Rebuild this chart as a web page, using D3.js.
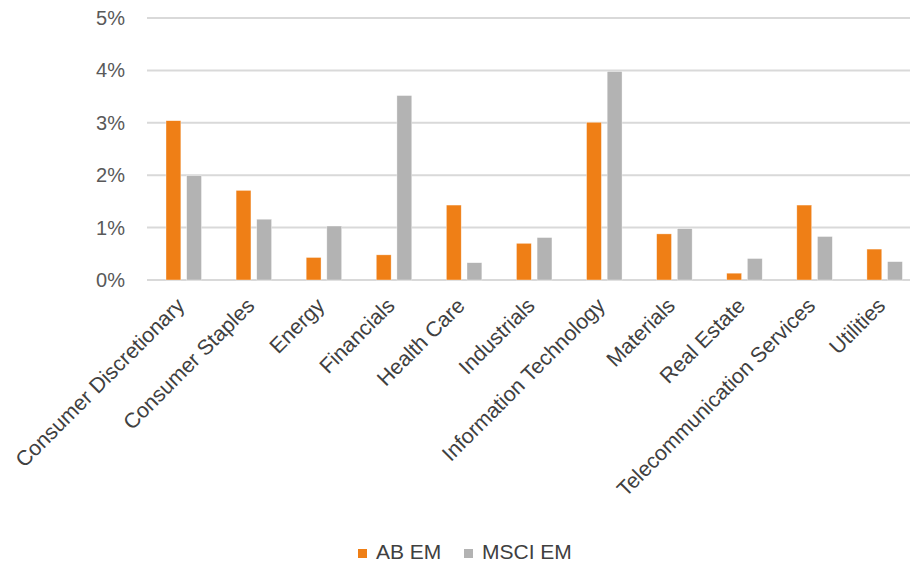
<!DOCTYPE html>
<html lang="en">
    <head>
        <meta charset="UTF-8">
        <script src="https://cdn.jsdelivr.net/npm/d3@7"></script>
        <title>AB EM vs MSCI EM</title>
        <style>
            body { margin: 0; background: #fff; }
            svg text { font-family: "Liberation Sans", Arial, sans-serif; }
        </style>
    </head>
    <body>
        <svg id="canvas" width="910" height="564"></svg>

        <script>
            // data (percent)
            var categories = ["Consumer Discretionary", "Consumer Staples", "Energy", "Financials",
                              "Health Care", "Industrials", "Information Technology", "Materials",
                              "Real Estate", "Telecommunication Services", "Utilities"];
            var series = ["AB EM", "MSCI EM"];
            var abEM   = [3.04, 1.71, 0.43, 0.48, 1.43, 0.70, 3.01, 0.88, 0.13, 1.43, 0.59];
            var msciEM = [1.99, 1.16, 1.03, 3.52, 0.33, 0.81, 3.98, 0.98, 0.41, 0.83, 0.35];
            var yTicks = [0, 1, 2, 3, 4, 5];
            var colors = ["#EF7F16", "#B3B3B3"];

            var svg = d3.select("svg#canvas"),
                plotLeft = 147, plotRight = 918, plotTop = 18, plotBottom = 280;

            var x0 = d3.scaleBand().domain(categories).range([plotLeft, plotRight]).padding(0);
            var x1 = d3.scaleBand().domain(series).range([19, 54.5]).paddingInner(0.28);
            var y = d3.scaleLinear().domain([0, 5]).range([plotBottom, plotTop]);

            // gridlines
            svg.append("g").selectAll("line").data(yTicks).join("line")
                .attr("x1", plotLeft).attr("x2", 910)
                .attr("y1", function(d) { return y(d); })
                .attr("y2", function(d) { return y(d); })
                .attr("stroke", "#d9d9d9").attr("stroke-width", 2);

            // y tick labels
            svg.append("g").selectAll("text").data(yTicks).join("text")
                .attr("x", 125).attr("y", function(d) { return y(d); })
                .attr("dy", "0.35em").attr("text-anchor", "end")
                .attr("font-size", 20).attr("fill", "#595959")
                .text(function(d) { return d + "%"; });

            // bars
            var rows = categories.map(function(c, i) {
                return { cat: c, vals: [abEM[i], msciEM[i]] };
            });
            var groups = svg.append("g").selectAll("g").data(rows).join("g")
                .attr("transform", function(d) { return "translate(" + x0(d.cat) + ",0)"; });
            groups.selectAll("rect").data(function(d) {
                return d.vals.map(function(v, j) { return { s: series[j], v: v, c: colors[j] }; });
            }).join("rect")
                .attr("x", function(d) { return x1(d.s); })
                .attr("width", x1.bandwidth())
                .attr("y", function(d) { return y(d.v); })
                .attr("height", function(d) { return y(0) - y(d.v); })
                .attr("fill", function(d) { return d.c; })
                .attr("stroke", "#fff").attr("stroke-width", 0.6).attr("stroke-opacity", 0.6);

            // category labels
            svg.append("g").selectAll("text").data(categories).join("text")
                .attr("transform", function(d) {
                    var cx = x0(d) + 36.7 + 2;
                    return "translate(" + cx + ",307) rotate(-45)";
                })
                .attr("text-anchor", "end")
                .attr("font-size", 21.3).attr("fill", "#404040")
                .text(function(d) { return d; });

            // legend
            var legendX = [358, 464];
            var leg = svg.append("g").selectAll("g").data(series).join("g")
                .attr("transform", function(d, i) { return "translate(" + legendX[i] + ",549)"; });
            leg.append("rect").attr("width", 9).attr("height", 9)
                .attr("fill", function(d, i) { return colors[i]; });
            leg.append("text").attr("x", 18).attr("y", 9.5)
                .attr("font-size", 21).attr("fill", "#404040")
                .text(function(d) { return d; });
        </script>
    </body>
</html>
